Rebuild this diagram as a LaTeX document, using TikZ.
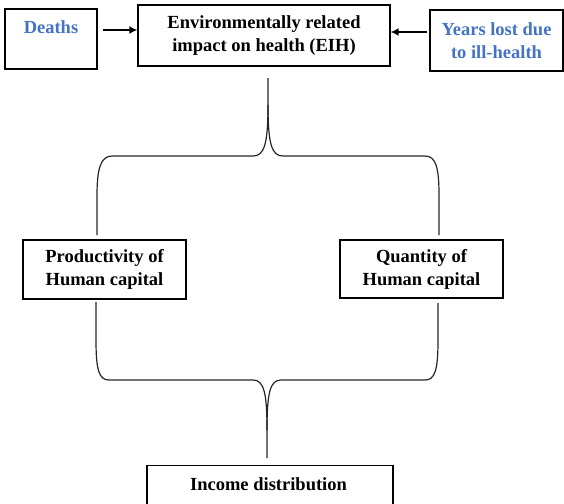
\documentclass[tikz,border=0pt]{standalone}
\usepackage{fontspec}
\setmainfont{Liberation Serif}
\usetikzlibrary{arrows.meta}
\definecolor{lblue}{RGB}{68,114,196}
\begin{document}
\begin{tikzpicture}[x=1pt,y=-1pt,
  box/.style={draw=black,line width=1.2pt,rectangle,inner sep=0pt,align=center,
    font=\bfseries\fontsize{18.5}{23}\selectfont},
  brace/.style={draw=black!85,line width=1.2pt},
  arr/.style={draw=black,line width=2pt,-{Latex[length=8pt,width=8pt]}}]
\useasboundingbox (0,0) rectangle (564,503);
\node[box,minimum width=92pt,minimum height=60pt,text=lblue] (deaths) at (51,39) {Deaths\\[-6pt]\strut};
\node[box,minimum width=252pt,minimum height=61pt] (eih) at (264,35.5) {Environmentally related\\impact on health (EIH)};
\node[box,minimum width=133pt,minimum height=61pt,text=lblue] (years) at (496.5,40.5) {Years lost due\\to ill-health};
\node[box,minimum width=163pt,minimum height=59pt] (prod) at (104.5,269.5) {Productivity of\\Human capital};
\node[box,minimum width=163pt,minimum height=58pt] (quant) at (421.5,269) {Quantity of\\Human capital};
\node[box,minimum width=246pt,minimum height=60pt,anchor=north] (income) at (270,465) {};
\node[font=\bfseries\fontsize{18.5}{23}\selectfont] (incometext) at (268.5,484) {Income distribution};
\draw[arr] (deaths.east |- 0,30) ++(5,0) coordinate (da) -- (eih.west |- da);
\draw[arr] (years.west |- 0,32) ++(-2,0) coordinate (ya) -- (eih.east |- ya);
% top brace
\coordinate (tt) at (268,78);
\coordinate (tl) at (97,235);
\coordinate (tr) at (439,235);
\draw[brace] (tt) -- (268,105) .. controls (268,145) and (264,156) .. (253,156) -- (112,156)
  .. controls (101,156) and (97,168) .. (97,195) -- (tl);
\draw[brace] (268,105) .. controls (268,145) and (272,156) .. (283,156) -- (425,156)
  .. controls (436,156) and (439,168) .. (439,195) -- (tr);
% bottom brace
\coordinate (bl) at (96,302);
\coordinate (br) at (438,303);
\coordinate (bt) at (267,458);
\draw[brace] (bl) -- (96,340) .. controls (96,370) and (99,380) .. (109,380) -- (253,380)
  .. controls (264,380) and (267,393) .. (267,430) -- (bt);
\draw[brace] (br) -- (438,340) .. controls (438,370) and (435,380) .. (425,380) -- (281,380)
  .. controls (270,380) and (267,393) .. (267,430);
\end{tikzpicture}
\end{document}
